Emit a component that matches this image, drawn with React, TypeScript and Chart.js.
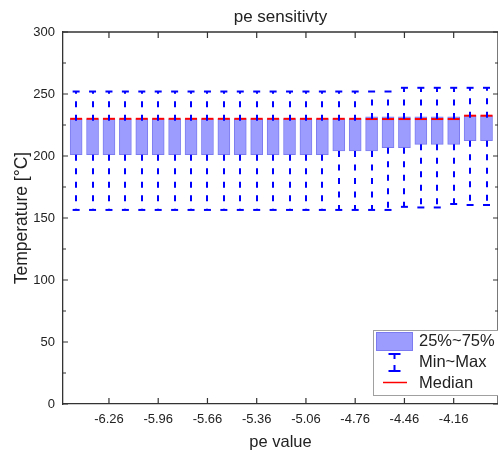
import React, { useEffect, useRef } from "react";
import { Chart, registerables } from "chart.js";

Chart.register(...registerables);

// ---------- data ----------
const peValues = [
  -6.46, -6.36, -6.26, -6.16, -6.06, -5.96, -5.86, -5.76, -5.66, -5.56, -5.46, -5.36, -5.26,
  -5.16, -5.06, -4.96, -4.86, -4.76, -4.66, -4.56, -4.46, -4.36, -4.26, -4.16, -4.06, -3.96,
];
const minValues = [
  156.5, 156.5, 156.5, 156.5, 156.5, 156.5, 156.5, 156.5, 156.5, 156.5, 156.5, 156.5, 156.5,
  156.5, 156.5, 156.5, 156.5, 156.5, 156.5, 156.5, 159, 158.5, 158.5, 161.3, 160.5, 160.5,
];
const q1Values = [
  201, 201, 201, 201, 201, 201, 201, 201, 201, 201, 201, 201, 201,
  201, 201, 201, 204, 204, 204, 206.7, 206.7, 209.4, 209.4, 209.4, 212.3, 212.3,
];
const medianValues = [
  230, 230, 230, 230, 230, 230, 230, 230, 230, 230, 230, 230, 230,
  230, 230, 230, 230, 230, 229.8, 229.8, 229.8, 229.8, 229.8, 229.8, 232.5, 232.5,
];
const q3Values = [
  230, 230, 230, 230, 230, 230, 230, 230, 230, 230, 230, 230, 230,
  230, 230, 230, 230, 230, 231.5, 231.5, 231.5, 231.5, 231.5, 231.5, 232.5, 232.5,
];
const maxValues = [
  252, 252, 252, 252, 252, 252, 252, 252, 252, 252, 252, 252, 252,
  252, 252, 252, 252, 252, 252, 252, 255, 255, 255, 255, 255, 255,
];
const xTickValues = [-6.26, -5.96, -5.66, -5.36, -5.06, -4.76, -4.46, -4.16];
const yTickValues = [0, 50, 100, 150, 200, 250, 300];
const yMinorTickValues = [25, 75, 125, 175, 225, 275];
const legendLabels = ["25%~75%", "Min~Max", "Median"];
const chartTitle = "pe sensitivty";
const xTitle = "pe value";
const yTitle = "Temperature [°C]";

const FONT = '"Liberation Sans", Arial, sans-serif';
const AXIS = "#333333";
const TEXT = "#222222";
const BOX_FILL = "#9c9cff";
const BOX_EDGE = "#7c7cf0";
const WHISKER = "#0000ff";
const MEDIAN = "#ff0000";

const extrasPlugin = {
  id: "boxExtras",
  afterDatasetsDraw(chart: any) {
    const { ctx } = chart;
    const xs = chart.scales.x;
    const ys = chart.scales.y;
    ctx.save();
    ctx.strokeStyle = WHISKER;
    ctx.lineWidth = 2;
    ctx.setLineDash([6, 7.5]);
    peValues.forEach((pv, i) => {
      const px = Math.round(xs.getPixelForValue(pv));
      ctx.beginPath();
      ctx.moveTo(px, ys.getPixelForValue(q3Values[i]) + 2);
      ctx.lineTo(px, ys.getPixelForValue(maxValues[i]));
      ctx.stroke();
      ctx.beginPath();
      ctx.moveTo(px, ys.getPixelForValue(q1Values[i]));
      ctx.lineTo(px, ys.getPixelForValue(minValues[i]));
      ctx.stroke();
    });
    ctx.restore();
  },
  afterDraw(chart: any) {
    const { ctx, chartArea } = chart;
    const { left, right, top, bottom } = chartArea;
    const xs = chart.scales.x;
    const ys = chart.scales.y;
    ctx.save();
    // top and right frame
    ctx.strokeStyle = AXIS;
    ctx.lineWidth = 1.3;
    ctx.setLineDash([]);
    ctx.beginPath();
    ctx.moveTo(left, top);
    ctx.lineTo(right, top);
    ctx.lineTo(right, bottom);
    ctx.stroke();
    // inward ticks
    ctx.lineWidth = 1.2;
    ctx.beginPath();
    yTickValues.forEach((v) => {
      const py = ys.getPixelForValue(v);
      ctx.moveTo(left, py);
      ctx.lineTo(left + 5, py);
      ctx.moveTo(right, py);
      ctx.lineTo(right - 5, py);
    });
    yMinorTickValues.forEach((v) => {
      const py = ys.getPixelForValue(v);
      ctx.moveTo(left, py);
      ctx.lineTo(left + 3, py);
      ctx.moveTo(right, py);
      ctx.lineTo(right - 3, py);
    });
    xTickValues.forEach((v) => {
      const px = xs.getPixelForValue(v);
      ctx.moveTo(px, bottom);
      ctx.lineTo(px, bottom - 6);
      ctx.moveTo(px, top);
      ctx.lineTo(px, top + 6);
    });
    ctx.stroke();

    // title
    ctx.fillStyle = TEXT;
    ctx.font = `17px ${FONT}`;
    ctx.textAlign = "center";
    ctx.textBaseline = "middle";
    ctx.fillText(chartTitle, (left + right) / 2, 17);

    // legend
    const lx = 373.5;
    const ly = 330.5;
    ctx.fillStyle = "#ffffff";
    ctx.fillRect(lx, ly, 160, 65);
    ctx.strokeStyle = "#a0a0a0";
    ctx.lineWidth = 1;
    ctx.strokeRect(lx, ly, 160, 65);
    // swatch
    ctx.fillStyle = BOX_FILL;
    ctx.fillRect(376, 332, 37, 19);
    ctx.strokeStyle = BOX_EDGE;
    ctx.strokeRect(376.5, 332.5, 36, 18);
    // min~max icon
    ctx.strokeStyle = WHISKER;
    ctx.lineWidth = 2;
    ctx.beginPath();
    ctx.moveTo(388.5, 354);
    ctx.lineTo(400.5, 354);
    ctx.moveTo(388.5, 371);
    ctx.lineTo(400.5, 371);
    ctx.moveTo(394.5, 354);
    ctx.lineTo(394.5, 359);
    ctx.moveTo(394.5, 365);
    ctx.lineTo(394.5, 371);
    ctx.stroke();
    // median icon
    ctx.strokeStyle = MEDIAN;
    ctx.lineWidth = 1.5;
    ctx.beginPath();
    ctx.moveTo(383, 382.5);
    ctx.lineTo(407, 382.5);
    ctx.stroke();
    // labels
    ctx.fillStyle = TEXT;
    ctx.font = `16.5px ${FONT}`;
    ctx.textAlign = "left";
    ctx.textBaseline = "middle";
    ctx.fillText(legendLabels[0], 419, 341);
    ctx.fillText(legendLabels[1], 419, 362);
    ctx.fillText(legendLabels[2], 419, 383);
    ctx.restore();
  },
};

export default function App() {
  const ref = useRef<HTMLCanvasElement>(null);

  useEffect(() => {
    const canvas = ref.current;
    if (!canvas) return;
    const chart = new Chart(canvas, {
      type: "bar",
      data: {
        datasets: [
          {
            type: "bar",
            label: legendLabels[0],
            data: peValues.map((x, i) => ({ x, y: [q1Values[i], q3Values[i]] })) as any,
            backgroundColor: BOX_FILL,
            borderColor: BOX_EDGE,
            borderWidth: 1,
            borderSkipped: false,
            barThickness: 12,
            grouped: false,
            order: 3,
          } as any,
          {
            type: "scatter",
            label: legendLabels[2],
            data: peValues.map((x, i) => ({ x, y: medianValues[i] })),
            pointStyle: "line",
            pointRadius: 6,
            borderWidth: 2,
            borderColor: MEDIAN,
            backgroundColor: MEDIAN,
            order: 2,
          } as any,
          {
            type: "scatter",
            label: "max",
            data: peValues.map((x, i) => ({ x, y: maxValues[i] })),
            pointStyle: "line",
            pointRadius: 3.5,
            borderWidth: 2,
            borderColor: WHISKER,
            backgroundColor: WHISKER,
            order: 1,
          } as any,
          {
            type: "scatter",
            label: "min",
            data: peValues.map((x, i) => ({ x, y: minValues[i] })),
            pointStyle: "line",
            pointRadius: 3.5,
            borderWidth: 2,
            borderColor: WHISKER,
            backgroundColor: WHISKER,
            order: 1,
          } as any,
        ],
      },
      options: {
        responsive: false,
        animation: false,
        devicePixelRatio: 1,
        layout: { padding: { top: 32, right: 7, left: 0, bottom: 0 } },
        plugins: {
          legend: { display: false },
          tooltip: { enabled: false },
          title: { display: false },
        },
        events: [],
        scales: {
          x: {
            type: "linear",
            min: -6.54,
            max: -3.89,
            offset: false,
            grid: { display: false, drawTicks: false },
            border: { display: true, color: AXIS, width: 1.3 },
            afterBuildTicks: (s: any) => {
              s.ticks = xTickValues.map((v) => ({ value: v }));
            },
            afterFit: (s: any) => {
              s.height = 48;
            },
            ticks: {
              padding: 8,
              autoSkip: false,
              maxRotation: 0,
              color: TEXT,
              font: { family: FONT, size: 13 },
              callback: (v: any) => Number(v).toFixed(2),
            },
            title: {
              display: true,
              text: xTitle,
              color: TEXT,
              font: { family: FONT, size: 16.5, lineHeight: 1 },
              padding: { top: 0, bottom: 1 },
            },
          } as any,
          y: {
            type: "linear",
            min: 0,
            max: 300,
            grid: { display: false, drawTicks: false },
            border: { display: true, color: AXIS, width: 1.3 },
            afterFit: (s: any) => {
              s.width = 63;
            },
            afterBuildTicks: (s: any) => {
              s.ticks = yTickValues.map((v) => ({ value: v }));
            },
            ticks: {
              padding: 8,
              color: TEXT,
              font: { family: FONT, size: 13 },
              callback: (v: any) => String(v),
            },
            title: {
              display: true,
              text: yTitle,
              color: TEXT,
              font: { family: FONT, size: 17.5, lineHeight: 1 },
              padding: { top: 13, bottom: 0 },
            },
          } as any,
        },
      },
      plugins: [extrasPlugin],
    });
    return () => chart.destroy();
  }, []);

  return (
    <div
      style={{
        position: "fixed",
        left: 0,
        top: 0,
        width: 498,
        height: 452,
        overflow: "hidden",
        background: "#ffffff",
      }}
    >
      <canvas ref={ref} width={506} height={452} style={{ display: "block" }} />
    </div>
  );
}
